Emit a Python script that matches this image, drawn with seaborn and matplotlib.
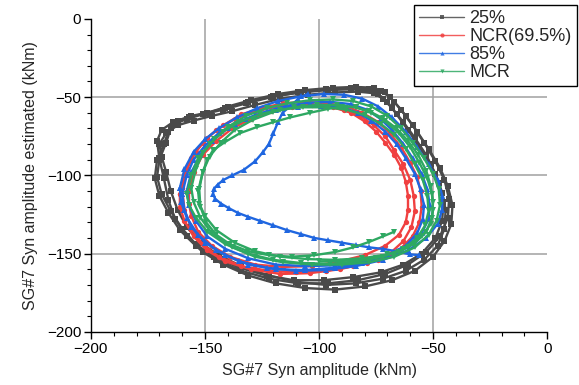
import matplotlib
matplotlib.use("Agg")
import matplotlib.pyplot as plt
from matplotlib.lines import Line2D
from matplotlib.ticker import MultipleLocator
import seaborn as sns
import pandas as pd

# ---------------- data ----------------
series_names = ["25%", "NCR(69.5%)", "85%", "MCR"]

# 25% (gray)
g1_x = [-171, -169, -164, -157, -149, -140, -130, -118, -106, -94, -84, -76, -71, -67, -62, -57, -52, -47, -43.5, -41.5, -42, -45, -50, -58, -68, -80, -93, -106, -119, -131, -142, -151, -158, -163, -166, -168, -170]
g1_y = [-78, -71, -66, -63, -60, -56, -52, -48, -45.5, -44, -43.5, -44, -47, -53, -62, -72, -83, -95, -107, -119, -131, -142, -152, -161, -167, -171, -173, -172, -169, -164, -157, -149, -139, -128, -116, -102, -89]
g2_x = [-166, -163, -158, -151, -142, -132, -121, -109, -97, -86, -78, -73, -69, -64, -59, -54, -49, -45, -43, -43.5, -47, -53, -61, -71, -83, -96, -109, -122, -134, -145, -154, -161, -166, -170, -172, -171, -168]
g2_y = [-72, -67, -64, -61, -58, -54, -50, -47, -45, -44, -44.5, -46, -50, -58, -68, -79, -91, -103, -115, -127, -139, -149, -157, -163, -167, -169, -169, -166, -161, -154, -145, -135, -124, -113, -102, -90, -80]
g3_x = [-170, -167, -162, -155, -147, -138, -128, -117, -105, -93, -83, -76, -72, -68, -63, -58, -53, -49, -46, -44.5, -45, -48, -54, -62, -72, -84, -97, -110, -122, -134, -144, -152, -158, -162, -165, -167, -169]
g3_y = [-80, -73, -68, -65, -62, -59, -55, -51, -48.5, -47, -46.5, -47.5, -51, -57, -66, -76, -87, -99, -111, -122, -134, -145, -154, -161, -166, -169, -170, -168, -164, -158, -151, -143, -133, -122, -110, -98, -88]
g4_x = [-165, -162, -156, -149, -141, -131, -120, -108, -96, -86, -79, -74, -70, -66, -61, -56, -51, -47.5, -45.5, -46, -49, -55, -63, -73, -85, -98, -111, -123, -135, -146, -154, -160, -165, -169, -171, -170, -167]
g4_y = [-70, -65, -62, -60, -57, -53, -49.5, -47, -45.5, -45, -45.5, -48, -53, -61, -71, -82, -93, -105, -117, -129, -140, -150, -157, -162, -165, -167, -167, -164, -159, -152, -144, -134, -123, -112, -101, -90, -79]

# NCR(69.5%) (red)
r1_x = [-160, -158, -154, -149, -142, -134, -125, -116, -106, -96, -88, -81, -74, -69, -64, -60, -57, -55.5, -55, -56, -59, -65, -74, -85, -97, -110, -122, -134, -144, -151, -156, -159]
r1_y = [-108, -96, -85, -76, -68, -61, -57, -54, -53, -54, -56, -60, -66, -73, -82, -92, -101, -110, -120, -130, -139, -148, -154, -158, -161, -162, -161, -158, -152, -144, -134, -122]
r2_x = [-157, -155, -151, -145, -138, -130, -121, -112, -103, -94, -86, -80, -75, -71, -67, -64, -62, -61, -61, -62, -65, -71, -80, -91, -103, -116, -128, -139, -147, -153, -156, -157]
r2_y = [-110, -98, -87, -78, -70, -64, -59, -56, -55, -56.5, -60, -65.5, -72, -79, -87, -95, -104, -113, -122, -130, -138, -145, -151, -155, -158, -158.5, -157, -152, -145, -136, -126, -118]
r3_x = [-161, -159, -156, -151, -145, -137, -128, -118, -108, -98, -89, -82, -76, -71, -67, -63, -60, -58.5, -58, -59.5, -63, -69, -79, -91, -104, -117, -130, -141, -149, -155, -159, -161]
r3_y = [-112, -100, -89, -79, -71, -64, -59, -56, -55, -55.5, -58, -62, -68, -75, -84, -93, -103, -113, -123, -133, -142, -150, -156, -160, -162.5, -163, -160, -155, -148, -139, -129, -120]

# 85% (blue)
b0_x = [-56, -60, -66, -72, -78, -84, -90, -96, -102, -108, -114, -120, -126, -131, -135.5, -139.5, -143, -145.5, -146.5, -146, -144.5, -142, -138, -133, -128, -124.5, -122, -120, -118, -116, -112, -109, -105]
b0_y = [-151, -150.5, -148.5, -147, -146, -144.5, -143, -141.5, -140, -137.5, -135, -132, -129, -126.5, -124, -121, -118, -115, -112, -108.5, -106, -103, -100, -96.5, -91, -85, -80, -73, -66, -60, -55, -51, -48]
b1_x = [-161, -159, -155, -150, -144, -136, -127, -118, -108, -98, -89, -81, -74, -68, -62, -57, -52, -48, -46, -46, -48, -53, -61, -72, -84, -97, -110, -123, -135, -145, -153, -158, -160.5]
b1_y = [-108, -96, -85, -77, -70, -63, -57, -52.5, -49.5, -48, -48.5, -51, -56, -63, -72, -82, -93, -103, -113, -122, -131, -140, -148, -154, -158, -160.5, -161, -159, -155, -148, -138, -127, -117]
b2_x = [-158, -156, -152, -147, -140, -132, -123, -114, -104, -95, -86, -79, -73, -68, -63, -59, -55, -52.5, -51.5, -52, -55, -61, -70, -81, -93, -106, -119, -131, -141, -149, -154, -157]
b2_y = [-110, -98, -87, -78, -70, -64, -59, -55.5, -53.5, -53, -54.5, -58, -64, -71, -80, -89, -99, -109, -119, -128, -137, -145, -151, -155, -157.5, -158, -157, -153, -147, -139, -129, -119]
b3_x = [-160, -158, -155, -150, -144, -137, -128, -119, -109, -99, -90, -83, -77, -71, -66, -62, -58, -55.5, -54, -54.5, -57, -62, -70, -81, -93, -106, -119, -131, -141, -150, -156, -159]
b3_y = [-112, -100, -90, -81, -73, -67, -61.5, -58, -56, -55.5, -56.5, -60, -65, -72, -80, -89, -99, -109, -119, -128, -137, -145, -151, -156, -159, -160.5, -160, -157, -151, -143, -133, -122]

# MCR (green)
m1_x = [-156, -154, -151, -146, -140, -132, -123, -114, -104, -94, -85, -77, -70, -64, -59, -54, -50, -47.5, -47, -48.5, -52, -58, -67, -78, -90, -103, -116, -128, -138, -147, -152, -155]
m1_y = [-108, -96, -86, -77, -69, -62, -57, -54, -52, -51.5, -52.5, -56, -62, -70, -79, -89, -99, -109, -119, -129, -138, -146, -152, -155.5, -157, -157, -155.5, -152, -146, -137, -127, -117]
m2_x = [-153, -151, -148, -143, -137, -129, -120, -111, -101, -92, -84, -77, -71, -65, -60, -56, -52.5, -50.5, -50, -51, -55, -61, -70, -81, -93, -105, -117, -128, -137, -145, -150, -152.5]
m2_y = [-110, -98, -88, -79, -71, -64.5, -59.5, -56.5, -55, -55, -56.5, -60, -65.5, -73, -82, -92, -102, -112, -122, -131, -139, -146, -150.5, -153, -154, -153.5, -152, -148.5, -143, -135, -126, -118]
m3_x = [-158, -156, -153, -148, -142, -135, -126, -117, -107, -97, -88, -80, -73, -67, -62, -58, -54.5, -52.5, -52, -53.5, -57, -63, -72, -83, -95, -108, -120, -131, -141, -149, -154, -157]
m3_y = [-112, -100, -89, -80, -72, -66, -61, -58, -56.5, -56.5, -58, -61.5, -67, -74, -83, -93, -103, -113, -123, -132, -140, -147, -152, -155, -156.5, -156, -154, -150, -144, -136, -127, -119]
m4_x = [-67, -72, -78, -85, -93, -102, -112, -122, -131, -139, -145, -149.5, -152, -152.5, -151, -149, -146.5, -141, -134.6, -127, -120, -112.7, -104, -96, -90, -84, -78, -72, -66, -61, -56.5, -53, -51, -50, -50.5, -53, -58, -65, -75, -87, -100]
m4_y = [-136, -139, -142.5, -146, -149, -151, -152, -151, -148.5, -144, -138, -130, -120, -109, -98, -90, -84, -78.5, -73, -69, -66, -63, -60, -57.5, -56, -56.5, -59, -63.5, -70, -78, -87, -97, -107, -117, -127, -136, -143.5, -149, -152.5, -154.5, -155]

# (series, loop id, x list, y list, closed?)
loops = [
    ("25%", "g1", g1_x, g1_y, True), ("25%", "g2", g2_x, g2_y, True),
    ("25%", "g3", g3_x, g3_y, True), ("25%", "g4", g4_x, g4_y, True),
    ("NCR(69.5%)", "r1", r1_x, r1_y, True), ("NCR(69.5%)", "r2", r2_x, r2_y, True),
    ("NCR(69.5%)", "r3", r3_x, r3_y, True),
    ("85%", "b0", b0_x, b0_y, False), ("85%", "b1", b1_x, b1_y, True),
    ("85%", "b2", b2_x, b2_y, True), ("85%", "b3", b3_x, b3_y, True),
    ("MCR", "m1", m1_x, m1_y, True), ("MCR", "m2", m2_x, m2_y, True),
    ("MCR", "m3", m3_x, m3_y, True), ("MCR", "m4", m4_x, m4_y, False),
]

x_ticks = [-200, -150, -100, -50, 0]
y_ticks = [-200, -150, -100, -50, 0]

# ---------------- build table ----------------
rows = []
for name, lid, xs, ys, closed in loops:
    xx = list(xs) + (list(xs[:1]) if closed else [])
    yy = list(ys) + (list(ys[:1]) if closed else [])
    for i, (a, b) in enumerate(zip(xx, yy)):
        rows.append({"series": name, "loop": lid, "order": i, "x": a, "y": b})
df = pd.DataFrame(rows)

palette = {"25%": "#4a4a4a", "NCR(69.5%)": "#f04040", "85%": "#1f66e0", "MCR": "#2ea862"}
markers = {"25%": "s", "NCR(69.5%)": "o", "85%": "^", "MCR": "v"}

sns.set_theme(style="ticks")
plt.rcParams["font.family"] = ["Liberation Sans", "DejaVu Sans"]

fig = plt.figure(figsize=(5.79, 3.85), dpi=100)
ax = fig.add_axes([0.157, 0.138, 0.788, 0.813])

sns.lineplot(data=df, x="x", y="y", hue="series", style="series", units="loop",
             estimator=None, sort=False, palette=palette, markers=markers,
             dashes=False, hue_order=series_names, style_order=series_names,
             markersize=3.8, linewidth=1.7, markeredgewidth=0, legend=False, ax=ax)

ax.set_xlim(-200, 0)
ax.set_ylim(-200, 0)
ax.set_xticks(x_ticks)
ax.set_yticks(y_ticks)
ax.xaxis.set_minor_locator(MultipleLocator(10))
ax.yaxis.set_minor_locator(MultipleLocator(10))
ax.tick_params(axis="both", which="major", direction="out", length=5, width=1,
               labelsize=11, colors="black", pad=2)
ax.tick_params(axis="both", which="minor", direction="out", length=3, width=0.8, colors="black")
for s in ["top", "right"]:
    ax.spines[s].set_visible(False)
for s in ["left", "bottom"]:
    ax.spines[s].set_color("black")
    ax.spines[s].set_linewidth(1)

ax.grid(True, which="major", color="#a0a0a0", linewidth=1.1)
gx = ax.get_xgridlines()
gy = ax.get_ygridlines()
for gl in (gx[0], gx[-1], gy[0], gy[-1]):
    gl.set_visible(False)
ax.set_axisbelow(True)

ax.set_xlabel("SG#7 Syn amplitude (kNm)", fontsize=11.5, labelpad=5)
ax.set_ylabel("SG#7 Syn amplitude estimated (kNm)", fontsize=11.5, labelpad=6)

handles = [Line2D([], [], color=palette[n], marker=markers[n], markersize=3,
                  markeredgewidth=0, linewidth=1.0, alpha=0.85) for n in series_names]
leg = ax.legend(handles, series_names, loc="upper right", bbox_to_anchor=(1.066, 1.045),
                borderaxespad=0, fontsize=13, frameon=True, fancybox=False,
                edgecolor="black", framealpha=1, handlelength=2.5, labelspacing=0.05,
                handletextpad=0.3, borderpad=0.3)
leg.get_frame().set_linewidth(1.0)

fig.savefig("out.png", dpi=100)
